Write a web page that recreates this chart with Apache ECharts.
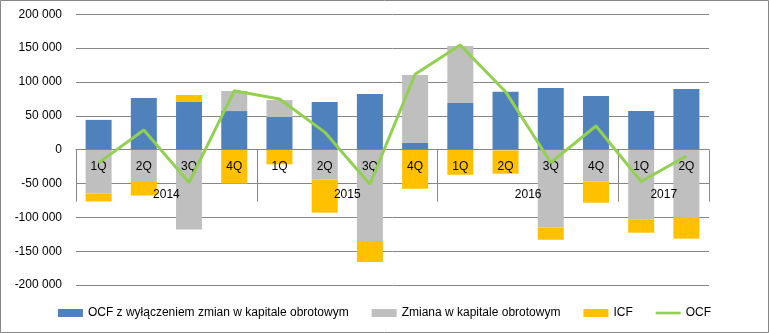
<!DOCTYPE html>
<html>
<head>
<meta charset="utf-8">
<script src="https://cdn.jsdelivr.net/npm/echarts@6/dist/echarts.min.js"></script>
<style>
html,body{margin:0;padding:0;background:#fff;}
#chart{width:769px;height:333px;}
</style>
</head>
<body>
<div id="chart"></div>
<script>
var quarters = ['1Q','2Q','3Q','4Q','1Q','2Q','3Q','4Q','1Q','2Q','3Q','4Q','1Q','2Q'];
var years = ['2014','2015','2016','2017'];
var yearLabelPos = [2, 6, 10, 13];
var yearBounds = [0, 4, 8, 12, 14];
var ocfExcl = [44000, 76500, 70500, 57000, 48300, 70500, 82300, 9900, 69000, 85700, 91000, 79300, 57200, 89700];
var wcChange = [-64500, -47700, -118000, 29700, 25000, -44300, -134900, 100400, 84000, -1200, -114700, -46700, -103400, -99400];
var icf = [-12000, -20000, 10300, -50000, -21600, -48700, -31000, -57600, -37000, -34300, -18300, -31600, -19200, -32000];
var ocf = [-19500, 29000, -48500, 87000, 75000, 26000, -51000, 111500, 154500, 85700, -19000, 35000, -47000, -9300];

var font = 'Liberation Sans, Arial, sans-serif';
var chart = echarts.init(document.getElementById('chart'));
chart.setOption({
  animation: false,
  backgroundColor: '#fff',
  textStyle: {fontFamily: font},
  graphic: [{
    type: 'rect', silent: true,
    shape: {x: 0.5, y: 0.5, width: 768, height: 332},
    style: {fill: 'none', stroke: '#868686', lineWidth: 1}
  }],
  legend: {
    bottom: 9, left: 'center',
    itemWidth: 25, itemHeight: 8, itemGap: 23,
    textStyle: {fontFamily: font, fontSize: 12, color: '#000'},
    data: [
      {name: 'OCF z wyłączeniem zmian w kapitale obrotowym', icon: 'rect'},
      {name: 'Zmiana w kapitale obrotowym', icon: 'rect'},
      {name: 'ICF', icon: 'rect'},
      {name: 'OCF', icon: 'path://M0,0h29v3h-29z'}
    ]
  },
  grid: {left: 76, right: 60, top: 14.3, bottom: 47.9, containLabel: false},
  xAxis: [{
    type: 'category', data: quarters, z: 5, position: 'bottom', offset: -135.4,
    axisLine: {onZero: false, lineStyle: {color: '#868686', width: 1}},
    axisTick: {show: false},
    axisLabel: {color: '#000', fontSize: 12, fontFamily: font, margin: 11, interval: 0}
  }, {
    type: 'value', min: 0, max: 14, position: 'bottom', offset: -135.4, z: 5,
    axisLine: {show: false, onZero: false},
    splitLine: {show: false},
    axisTick: {show: true, customValues: yearBounds, length: 52, lineStyle: {color: '#868686', width: 1}},
    axisLabel: {
      customValues: yearLabelPos, margin: 39, color: '#000', fontSize: 12, fontFamily: font,
      formatter: function (v) { return years[yearLabelPos.indexOf(v)] || ''; }
    }
  }],
  yAxis: {
    type: 'value', min: -200000, max: 200000, interval: 50000,
    axisLine: {show: false, onZero: false}, axisTick: {show: false},
    splitLine: {lineStyle: {color: '#868686', width: 1}},
    axisLabel: {
      color: '#000', fontSize: 12, fontFamily: font, margin: 14,
      formatter: function (v) {
        var s = String(Math.abs(v)).replace(/\B(?=(\d{3})+(?!\d))/g, ' ');
        return (v < 0 ? '-' : '') + s;
      }
    }
  },
  series: [{
    name: 'OCF z wyłączeniem zmian w kapitale obrotowym', type: 'bar', stack: 'a',
    barWidth: 26, data: ocfExcl, itemStyle: {color: '#4F81BD'}
  }, {
    name: 'Zmiana w kapitale obrotowym', type: 'bar', stack: 'a',
    barWidth: 26, data: wcChange, itemStyle: {color: '#BFBFBF'}
  }, {
    name: 'ICF', type: 'bar', stack: 'a',
    barWidth: 26, data: icf, itemStyle: {color: '#FFC000'}
  }, {
    name: 'OCF', type: 'line', data: ocf, z: 10,
    symbol: 'none', lineStyle: {color: '#92D050', width: 3}, itemStyle: {color: '#92D050'}
  }]
});
</script>
</body>
</html>
